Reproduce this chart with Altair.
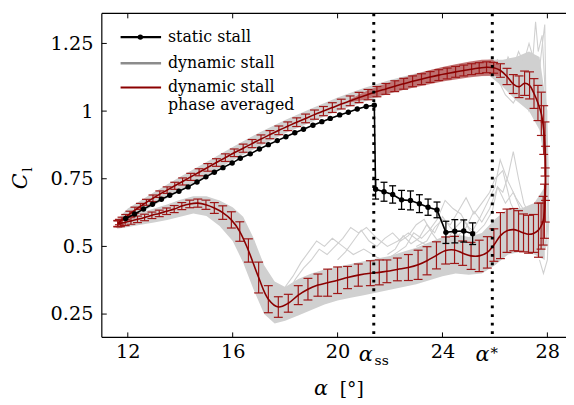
import altair as alt
import pandas as pd

# ---------------- data ----------------
alpha_ss = 21.38
alpha_star = 25.9

x_ticks = [12, 16, 20, 24, 28]
y_ticks = [0.25, 0.5, 0.75, 1.0, 1.25]

# static stall (black)
static_alpha = [11.92, 12.26, 12.60, 12.94, 13.28, 13.60, 13.95, 14.30, 14.64, 14.98, 15.30, 15.63,
                15.98, 16.29, 16.67, 17.02, 17.36, 17.70, 18.03, 18.37, 18.70, 19.06, 19.40, 19.72,
                20.08, 20.41, 20.75, 21.09, 21.40,
                21.45, 21.77, 22.10, 22.44, 22.78, 23.12, 23.45, 23.79, 24.13, 24.47, 24.81, 25.15]
static_cl = [0.603, 0.620, 0.638, 0.656, 0.674, 0.689, 0.704, 0.720, 0.738, 0.757, 0.774, 0.791,
             0.808, 0.826, 0.842, 0.860, 0.876, 0.891, 0.905, 0.920, 0.933, 0.948, 0.961, 0.973,
             0.986, 0.996, 1.008, 1.017, 1.022,
             0.711, 0.702, 0.692, 0.672, 0.670, 0.658, 0.645, 0.635, 0.552, 0.556, 0.557, 0.547]
static_err = [0] * 29 + [0.036, 0.035, 0.032, 0.035, 0.035, 0.033, 0.030, 0.029, 0.041, 0.043, 0.041, 0.040]

# phase averaged dynamic stall (dark red), in cycle order
red_alpha = [11.62, 11.68, 11.78, 11.92, 12.08, 12.27, 12.48, 12.71, 12.96, 13.22, 13.50, 13.79,
             14.09, 14.40, 14.72, 15.05, 15.38, 15.72, 16.06, 16.40, 16.74, 17.08, 17.42, 17.76,
             18.10, 18.44, 18.78, 19.12, 19.46, 19.80, 20.14, 20.48, 20.82, 21.16, 21.50, 21.84,
             22.18, 22.52, 22.86, 23.20, 23.53, 23.86, 24.18, 24.50, 24.81, 25.11, 25.40, 25.68,
             25.95, 26.21, 26.46, 26.70, 26.92, 27.13, 27.32, 27.49, 27.64, 27.77, 27.86, 27.91,
             27.93,
             27.92, 27.89, 27.84, 27.76, 27.66, 27.47, 27.28, 27.09, 26.90, 26.72, 26.46, 26.21,
             25.96, 25.71, 25.40, 25.09, 24.77, 24.46, 24.12, 23.77, 23.41, 23.07, 22.70, 22.28,
             21.88, 21.59, 21.25, 20.79, 20.38, 20.00, 19.62, 19.25, 18.87, 18.50, 18.12, 17.74,
             17.36, 16.99, 16.60, 16.27, 15.95, 15.62, 15.30, 14.98, 14.67, 14.36, 14.06, 13.77,
             13.48, 13.20, 12.92, 12.64, 12.37, 12.12, 11.90, 11.72, 11.62]
red_cl = [0.584, 0.590, 0.598, 0.608, 0.620, 0.634, 0.648, 0.663, 0.678, 0.693, 0.708, 0.724,
          0.740, 0.757, 0.774, 0.792, 0.810, 0.828, 0.846, 0.863, 0.880, 0.897, 0.913, 0.929,
          0.944, 0.959, 0.973, 0.987, 1.000, 1.013, 1.026, 1.038, 1.050, 1.061, 1.072, 1.082,
          1.092, 1.101, 1.110, 1.118, 1.126, 1.133, 1.139, 1.145, 1.150, 1.155, 1.159, 1.162,
          1.160, 1.150, 1.128, 1.100, 1.090, 1.103, 1.095, 1.065, 1.030, 0.990, 0.930, 0.860,
          0.770,
          0.690, 0.630, 0.595, 0.575, 0.560, 0.548, 0.545, 0.550, 0.557, 0.562, 0.558, 0.540,
          0.505, 0.478, 0.465, 0.465, 0.475, 0.487, 0.485, 0.467, 0.447, 0.432, 0.422, 0.415,
          0.408, 0.404, 0.401, 0.394, 0.385, 0.375, 0.366, 0.357, 0.342, 0.320, 0.290, 0.276,
          0.305, 0.385, 0.485, 0.555, 0.598, 0.625, 0.642, 0.654, 0.660, 0.657, 0.649, 0.638,
          0.630, 0.622, 0.615, 0.607, 0.600, 0.594, 0.589, 0.585, 0.584]
red_err = [0.010, 0.010, 0.010, 0.010, 0.010, 0.011, 0.011, 0.011, 0.012, 0.012, 0.012, 0.013,
           0.013, 0.013, 0.013, 0.014, 0.014, 0.014, 0.014, 0.015, 0.015, 0.015, 0.015, 0.016,
           0.016, 0.016, 0.016, 0.017, 0.017, 0.018, 0.018, 0.018, 0.019, 0.019, 0.019, 0.020,
           0.020, 0.020, 0.020, 0.020, 0.020, 0.020, 0.020, 0.020, 0.020, 0.020, 0.020, 0.020,
           0.020, 0.025, 0.030, 0.035, 0.040, 0.045, 0.050, 0.055, 0.065, 0.080, 0.090, 0.100,
           0.100,
           0.100, 0.100, 0.090, 0.085, 0.100, 0.070, 0.070, 0.070, 0.075, 0.078, 0.080, 0.085,
           0.060, 0.058, 0.058, 0.050, 0.045, 0.050, 0.050, 0.050, 0.052, 0.054, 0.048, 0.042,
           0.042, 0.046, 0.046, 0.041, 0.041, 0.049, 0.050, 0.041, 0.040, 0.035, 0.033, 0.038,
           0.050, 0.057, 0.043, 0.036, 0.030, 0.025, 0.020, 0.017, 0.015, 0.014, 0.013, 0.013,
           0.012, 0.012, 0.012, 0.012, 0.012, 0.012, 0.012, 0.012, 0.012]

# shaded band on the late upstroke
band_alpha = [20.5, 21.0, 21.5, 22.0, 22.5, 23.0, 23.5, 24.0, 24.5, 25.0, 25.5, 25.9, 26.2]
band_lo = [1.033, 1.042, 1.054, 1.067, 1.078, 1.089, 1.099, 1.109, 1.117, 1.124, 1.130, 1.131, 1.130]
band_hi = [1.045, 1.070, 1.090, 1.107, 1.122, 1.137, 1.151, 1.163, 1.173, 1.182, 1.190, 1.191, 1.170]

# spread of the individual dynamic stall cycles (grey)
gray_up_alpha = [11.6, 12.0, 13.0, 14.0, 15.0, 16.0, 17.0, 18.0, 19.0, 20.0, 21.0, 22.0, 23.0,
                 24.0, 25.0, 25.8, 26.3, 26.8, 27.3, 27.7, 28.0]
gray_up_lo = [0.565, 0.595, 0.652, 0.705, 0.760, 0.818, 0.868, 0.918, 0.960, 1.000, 1.035, 1.065,
              1.092, 1.112, 1.128, 1.130, 1.090, 1.040, 1.000, 0.930, 0.750]
gray_up_hi = [0.600, 0.640, 0.700, 0.757, 0.812, 0.867, 0.920, 0.967, 1.010, 1.050, 1.085, 1.115,
              1.140, 1.162, 1.180, 1.190, 1.190, 1.200, 1.220, 1.200, 1.000]

gray_dn_alpha = [11.6, 12.0, 12.5, 13.0, 13.5, 14.0, 14.5, 15.0, 15.5, 16.0, 16.4, 16.8, 17.2, 17.6,
                 18.0, 18.5, 19.0, 19.5, 20.0, 20.5, 21.0, 21.5, 22.0, 22.5, 23.0, 23.5, 24.0, 24.5,
                 25.0, 25.5, 26.0, 26.5, 27.0, 27.5, 27.9]
gray_dn_lo = [0.565, 0.572, 0.580, 0.588, 0.598, 0.610, 0.622, 0.612, 0.575, 0.520, 0.440, 0.340,
              0.250, 0.215, 0.225, 0.245, 0.265, 0.285, 0.300, 0.310, 0.320, 0.330, 0.340, 0.350,
              0.360, 0.375, 0.390, 0.400, 0.395, 0.400, 0.430, 0.470, 0.480, 0.470, 0.450]
gray_dn_hi = [0.600, 0.612, 0.625, 0.640, 0.655, 0.672, 0.685, 0.685, 0.670, 0.645, 0.610, 0.530,
              0.430, 0.370, 0.350, 0.380, 0.400, 0.415, 0.425, 0.435, 0.445, 0.455, 0.465, 0.480,
              0.495, 0.515, 0.535, 0.545, 0.535, 0.550, 0.600, 0.640, 0.640, 0.660, 0.720]

# a few single cycles that leave the band
cyc1_alpha = [25.6, 25.9, 26.1, 26.3, 26.5, 26.7, 26.9, 27.1, 27.3, 27.45, 27.55, 27.65, 27.8,
              27.9, 28.0, 28.05, 28.0, 27.9, 27.7]
cyc1_cl = [1.16, 1.17, 1.19, 1.14, 1.20, 1.16, 1.22, 1.18, 1.25, 1.20, 1.33, 1.22, 1.28, 1.10,
           0.90, 0.70, 0.55, 0.50, 0.55]
cyc2_alpha = [25.7, 26.0, 26.2, 26.4, 26.6, 26.8, 27.0, 27.2, 27.4, 27.6, 27.75, 27.9, 27.95,
              28.0, 27.95, 27.8]
cyc2_cl = [1.17, 1.15, 1.10, 1.13, 1.08, 1.12, 1.06, 1.15, 1.10, 1.05, 1.20, 1.32, 1.00, 0.70,
           0.50, 0.48]
cyc3_alpha = [25.8, 26.1, 26.4, 26.7, 27.0, 27.3, 27.5, 27.7, 27.85, 27.95, 28.05, 28.0, 27.85, 27.7]
cyc3_cl = [1.16, 1.12, 1.06, 1.03, 1.08, 1.00, 1.05, 0.95, 0.90, 0.75, 0.60, 0.45, 0.40, 0.45]
cyc4_alpha = [27.7, 27.4, 27.1, 26.9, 26.7, 26.5, 26.3, 26.1, 25.9, 25.6, 25.3, 25.0, 24.7, 24.4,
              24.1, 23.8, 23.5, 23.2, 22.9, 22.6, 22.3, 22.0]
cyc4_cl = [0.52, 0.60, 0.66, 0.75, 0.85, 0.76, 0.70, 0.72, 0.63, 0.58, 0.55, 0.57, 0.62, 0.64,
           0.67, 0.60, 0.56, 0.53, 0.55, 0.50, 0.48, 0.46]
cyc5_alpha = [27.6, 27.2, 26.8, 26.5, 26.2, 26.0, 25.7, 25.4, 25.1, 24.8, 24.5, 24.2, 23.9, 23.6,
              23.3, 23.0, 22.7, 22.4, 22.1, 21.8, 21.5, 21.2, 20.9, 20.6, 20.3, 20.0]
cyc5_cl = [0.55, 0.62, 0.68, 0.74, 0.82, 0.72, 0.66, 0.60, 0.55, 0.60, 0.57, 0.53, 0.51, 0.55,
           0.60, 0.58, 0.54, 0.52, 0.55, 0.53, 0.50, 0.52, 0.56, 0.52, 0.48, 0.45]
cyc6_alpha = [23.5, 23.1, 22.7, 22.3, 21.9, 21.5, 21.1, 20.8, 20.5, 20.2, 19.9, 19.6, 19.3, 19.0,
              18.7, 18.4, 18.1]
cyc6_cl = [0.50, 0.52, 0.55, 0.52, 0.50, 0.53, 0.57, 0.55, 0.57, 0.53, 0.50, 0.47, 0.49, 0.45,
           0.42, 0.38, 0.33]
cyc7_alpha = [22.0, 21.5, 21.0, 20.6, 20.2, 19.8, 19.5, 19.2, 18.9, 18.6, 18.3, 18.0, 17.8]
cyc7_cl = [0.44, 0.46, 0.49, 0.47, 0.50, 0.53, 0.50, 0.52, 0.48, 0.44, 0.39, 0.35, 0.31]
cyc8_alpha = [26.9, 26.6, 26.3, 26.0, 25.8, 25.5, 25.2, 24.9, 24.6, 24.3, 24.0, 23.7, 23.4, 23.0]
cyc8_cl = [0.60, 0.66, 0.78, 0.75, 0.70, 0.66, 0.62, 0.68, 0.63, 0.58, 0.60, 0.57, 0.52, 0.50]
cyc9_alpha = [27.3, 27.0, 26.7, 26.4, 26.1, 25.8, 25.5, 25.2, 24.9, 24.6, 24.3, 24.0, 23.7, 23.4,
              23.1, 22.8, 22.5, 22.2, 21.9]
cyc9_cl = [0.58, 0.63, 0.70, 0.66, 0.72, 0.64, 0.59, 0.63, 0.57, 0.54, 0.57, 0.61, 0.55, 0.58,
           0.53, 0.51, 0.54, 0.49, 0.47]

# ---------------- tables ----------------
static_df = pd.DataFrame({"a": static_alpha, "c": static_cl, "e": static_err})
static_df["lo"] = static_df["c"] - static_df["e"]
static_df["hi"] = static_df["c"] + static_df["e"]
static_df["i"] = range(len(static_df))

red_df = pd.DataFrame({"a": red_alpha, "c": red_cl, "e": red_err})
red_df["lo"] = red_df["c"] - red_df["e"]
red_df["hi"] = red_df["c"] + red_df["e"]
red_df["i"] = range(len(red_df))

band_df = pd.DataFrame({"a": band_alpha, "lo": band_lo, "hi": band_hi})
gup_df = pd.DataFrame({"a": gray_up_alpha, "lo": gray_up_lo, "hi": gray_up_hi})
gdn_df = pd.DataFrame({"a": gray_dn_alpha, "lo": gray_dn_lo, "hi": gray_dn_hi})

cycles = [(cyc1_alpha, cyc1_cl), (cyc2_alpha, cyc2_cl), (cyc3_alpha, cyc3_cl), (cyc4_alpha, cyc4_cl),
          (cyc5_alpha, cyc5_cl), (cyc6_alpha, cyc6_cl), (cyc7_alpha, cyc7_cl), (cyc8_alpha, cyc8_cl),
          (cyc9_alpha, cyc9_cl)]
rows = []
for k, (aa, cc) in enumerate(cycles):
    for j, (a, c) in enumerate(zip(aa, cc)):
        rows.append({"id": k, "i": j, "a": a, "c": c})
cyc_df = pd.DataFrame(rows)

xt_df = pd.DataFrame({"v": x_ticks})
yt_df = pd.DataFrame({"v": y_ticks})
one = pd.DataFrame({"k": [0]})
ss_df = pd.DataFrame({"a": [alpha_ss]})
st_df = pd.DataFrame({"a": [alpha_star]})

# ---------------- chart ----------------
W, H = 470, 328
FONT = "DejaVu Serif"
RED = "#8b0000"
RED_BAR = "#9e1616"
GRAY = "#d0d0d0"

xs = alt.Scale(domain=[11.01, 28.71], nice=False, zero=False)
ys = alt.Scale(domain=[0.164, 1.361], nice=False, zero=False)

x_axis = alt.Axis(values=x_ticks, labelFont=FONT, labelFontSize=19.5, labelColor="black",
                  labelPadding=5, ticks=False, tickSize=0, domain=False, grid=False, title=None,
                  labelFlush=False)
y_axis = alt.Axis(values=y_ticks, labelFont=FONT, labelFontSize=19.5, labelColor="black",
                  labelPadding=9, ticks=False, tickSize=0, domain=False, grid=False, title=None,
                  format=".2~f")


def X(f="a"):
    return alt.X(f"{f}:Q", scale=xs, axis=x_axis)


def Y(f="c"):
    return alt.Y(f"{f}:Q", scale=ys, axis=y_axis)


gray_up = alt.Chart(gup_df).mark_area(color=GRAY, opacity=1).encode(x=X(), y=Y("lo"), y2="hi:Q")
gray_dn = alt.Chart(gdn_df).mark_area(color=GRAY, opacity=1).encode(x=X(), y=Y("lo"), y2="hi:Q")
gray_lines = alt.Chart(cyc_df).mark_line(color=GRAY, strokeWidth=1.1).encode(
    x=X(), y=Y(), detail="id:N", order="i:Q")

band = alt.Chart(band_df).mark_area(color="#bb6262", opacity=0.85).encode(x=X(), y=Y("lo"), y2="hi:Q")

red_rule = alt.Chart(red_df).mark_rule(color=RED_BAR, strokeWidth=1.2).encode(x=X(), y=Y("lo"), y2="hi:Q")
red_cap_lo = alt.Chart(red_df).mark_tick(color=RED_BAR, orient="horizontal", size=9, thickness=1.2,
                                         opacity=1).encode(x=X(), y=Y("lo"))
red_cap_hi = alt.Chart(red_df).mark_tick(color=RED_BAR, orient="horizontal", size=9, thickness=1.2,
                                         opacity=1).encode(x=X(), y=Y("hi"))
red_line = alt.Chart(red_df).mark_line(color=RED, strokeWidth=1.6, interpolate="catmull-rom").encode(
    x=X(), y=Y(), order="i:Q")

st_err = alt.Chart(static_df).transform_filter("datum.e > 0")
blk_rule = st_err.mark_rule(color="black", strokeWidth=1.3).encode(x=X(), y=Y("lo"), y2="hi:Q")
blk_cap_lo = st_err.mark_tick(color="black", orient="horizontal", size=7, thickness=1.3,
                              opacity=1).encode(x=X(), y=Y("lo"))
blk_cap_hi = st_err.mark_tick(color="black", orient="horizontal", size=7, thickness=1.3,
                              opacity=1).encode(x=X(), y=Y("hi"))
blk_line = alt.Chart(static_df).mark_line(color="black", strokeWidth=1.6).encode(x=X(), y=Y(), order="i:Q")
blk_pts = alt.Chart(static_df).mark_circle(color="black", size=30, opacity=1).encode(x=X(), y=Y())

dots = alt.Chart(pd.DataFrame({"a": [alpha_ss, alpha_star]})).mark_rule(
    color="black", strokeWidth=3, strokeDash=[2.8, 5.9]).encode(
    x=X(), y=alt.value(0), y2=alt.value(H))

# frame and inward ticks
frame_l = alt.Chart(one).mark_rule(color="black", strokeWidth=1.2).encode(
    x=alt.value(0), y=alt.value(0), y2=alt.value(H))
frame_t = alt.Chart(one).mark_rule(color="black", strokeWidth=1.2).encode(
    x=alt.value(0), x2=alt.value(W), y=alt.value(0))
frame_b = alt.Chart(one).mark_rule(color="black", strokeWidth=1.2).encode(
    x=alt.value(0), x2=alt.value(W), y=alt.value(H))
tk_b = alt.Chart(xt_df).mark_rule(color="black", strokeWidth=1).encode(
    x=X("v"), y=alt.value(H - 5), y2=alt.value(H))
tk_t = alt.Chart(xt_df).mark_rule(color="black", strokeWidth=1).encode(
    x=X("v"), y=alt.value(0), y2=alt.value(5))
tk_l = alt.Chart(yt_df).mark_rule(color="black", strokeWidth=1).encode(
    y=Y("v"), x=alt.value(0), x2=alt.value(5))

# special x labels
ss_a = alt.Chart(ss_df).mark_text(text="α", font=FONT, fontStyle="italic", fontSize=21, dx=-8,
                                  align="center", baseline="alphabetic").encode(x=X(), y=alt.value(352))
ss_s = alt.Chart(ss_df).mark_text(text="ss", font=FONT, fontSize=14, dx=8,
                                  align="center", baseline="alphabetic").encode(x=X(), y=alt.value(356))
star_a = alt.Chart(st_df).mark_text(text="α", font=FONT, fontStyle="italic", fontSize=21, dx=-10,
                                    align="center", baseline="alphabetic").encode(x=X(), y=alt.value(352))
star_s = alt.Chart(st_df).mark_text(text="*", font=FONT, fontSize=15, dx=2,
                                    align="center", baseline="alphabetic").encode(x=X(), y=alt.value(349))

# axis titles
xt_a = alt.Chart(one).mark_text(text="α", font=FONT, fontStyle="italic", fontSize=21,
                                align="center", baseline="alphabetic").encode(x=alt.value(222), y=alt.value(386))
xt_b = alt.Chart(one).mark_text(text="[°]", font=FONT, fontSize=19,
                                align="center", baseline="alphabetic").encode(x=alt.value(253), y=alt.value(386))
yt_c = alt.Chart(one).mark_text(text="C", font=FONT, fontStyle="italic", fontSize=21, angle=270,
                                align="center", baseline="middle").encode(x=alt.value(-82), y=alt.value(170))
yt_l = alt.Chart(one).mark_text(text="l", font=FONT, fontSize=14, angle=270,
                                align="center", baseline="middle").encode(x=alt.value(-75), y=alt.value(158))

# legend
lg = []
lg.append(alt.Chart(one).mark_rule(color="black", strokeWidth=2.5).encode(
    x=alt.value(19), x2=alt.value(60), y=alt.value(24)))
lg.append(alt.Chart(one).mark_circle(color="black", size=30, opacity=1).encode(
    x=alt.value(39), y=alt.value(24)))
lg.append(alt.Chart(one).mark_rule(color="#8c8c8c", strokeWidth=2.5).encode(
    x=alt.value(19), x2=alt.value(60), y=alt.value(50.5)))
lg.append(alt.Chart(one).mark_rule(color=RED, strokeWidth=2).encode(
    x=alt.value(19), x2=alt.value(60), y=alt.value(75)))
for txt, yy in [("static stall", 29), ("dynamic stall", 55), ("dynamic stall", 79.5), ("phase averaged", 98)]:
    lg.append(alt.Chart(one).mark_text(text=txt, font=FONT, fontSize=16, align="left",
                                       baseline="alphabetic", color="black").encode(
        x=alt.value(67), y=alt.value(yy)))

chart = alt.layer(
    gray_up, gray_dn, gray_lines, band,
    red_rule, red_cap_lo, red_cap_hi, red_line,
    blk_rule, blk_cap_lo, blk_cap_hi, blk_line, blk_pts,
    dots, frame_l, frame_t, frame_b, tk_b, tk_t, tk_l,
    ss_a, ss_s, star_a, star_s, xt_a, xt_b, yt_c, yt_l,
    *lg
).properties(
    width=W, height=H,
    autosize=alt.AutoSizeParams(type="none"),
    padding={"left": 95, "top": 3, "right": 0, "bottom": 64},
).configure_view(stroke=None)

chart.save("out.html", embed_options={"renderer": "svg", "actions": False})
